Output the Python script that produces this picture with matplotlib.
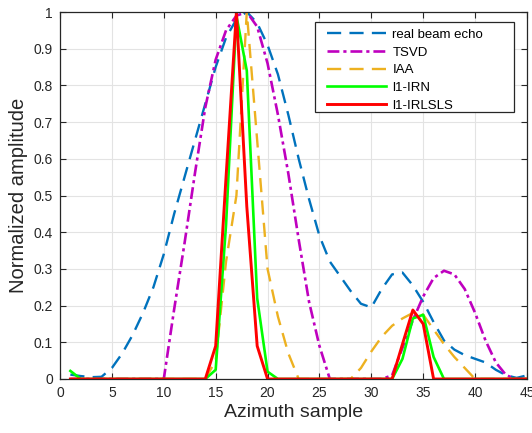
import numpy as np
import matplotlib.pyplot as plt
from matplotlib.patches import Rectangle

plt.rcParams['font.family'] = ['Liberation Sans', 'DejaVu Sans']

# azimuth sample index
samples = np.arange(1, 46)

# real beam echo
echo = [0.012, 0.008, 0.005, 0.006, 0.03, 0.07, 0.12, 0.18, 0.25, 0.34,
        0.45, 0.55, 0.65, 0.75, 0.85, 0.93, 0.98, 1.0, 0.97, 0.91,
        0.83, 0.72, 0.6, 0.49, 0.39, 0.32, 0.28, 0.24, 0.205, 0.195,
        0.245, 0.285, 0.29, 0.255, 0.21, 0.155, 0.105, 0.08, 0.065, 0.055,
        0.045, 0.025, 0.01, 0.003, 0.01]

tsvd = [0, 0, 0, 0, 0, 0, 0, 0, 0, 0,
        0.19, 0.37, 0.56, 0.74, 0.87, 0.95, 0.99, 1.0, 0.96, 0.86,
        0.72, 0.56, 0.38, 0.21, 0.09, 0, 0, 0, 0, 0,
        0, 0.01, 0.085, 0.16, 0.225, 0.275, 0.295, 0.285, 0.245, 0.18,
        0.105, 0.045, 0.01, 0, 0]

iaa = [0, 0, 0, 0, 0, 0, 0, 0, 0, 0,
       0, 0, 0, 0, 0.05, 0.32, 0.5, 1.0, 0.65, 0.3,
       0.17, 0.07, 0, 0, 0, 0, 0, 0, 0.03, 0.075,
       0.115, 0.145, 0.165, 0.18, 0.175, 0.135, 0.095, 0.06, 0.03, 0,
       0, 0, 0, 0, 0]

irn = [0.022, 0, 0, 0, 0, 0, 0, 0, 0, 0,
       0, 0, 0, 0, 0.025, 0.42, 0.99, 0.84, 0.22, 0.02,
       0, 0, 0, 0, 0, 0, 0, 0, 0, 0,
       0, 0, 0.055, 0.165, 0.175, 0.06, 0, 0, 0, 0,
       0, 0, 0, 0, 0]

irlsls = [0, 0, 0, 0, 0, 0, 0, 0, 0, 0,
          0, 0, 0, 0, 0.09, 0.55, 1.0, 0.47, 0.09, 0,
          0, 0, 0, 0, 0, 0, 0, 0, 0, 0,
          0, 0, 0.095, 0.188, 0.15, 0, 0, 0, 0, 0,
          0, 0, 0, 0, 0]

fig = plt.figure(figsize=(5.32, 4.33), dpi=100)
ax = fig.add_axes([60 / 532, 54 / 433, 467 / 532, 367 / 433])

ax.plot(samples, echo, color='#0072BD', lw=1.7, dashes=(6, 3.5), label='real beam echo')
ax.plot(samples, tsvd, color='#BF00BF', lw=1.9, dashes=(4.5, 1.5, 1.2, 1.5), label='TSVD')
ax.plot(samples, iaa, color='#EDB120', lw=1.7, dashes=(6, 3.5), label='IAA')
ax.plot(samples, irn, color='#00FF00', lw=1.9, label='l1-IRN')
ax.plot(samples, irlsls, color='#FF0000', lw=2.1, label='l1-IRLSLS')

ax.set_xlim(0, 45)
ax.set_ylim(0, 1)
ax.set_xticks(np.arange(0, 46, 5))
ax.set_yticks(np.arange(0, 1.01, 0.1))
ax.set_yticklabels(['0', '0.1', '0.2', '0.3', '0.4', '0.5', '0.6', '0.7', '0.8', '0.9', '1'])
ax.tick_params(direction='in', top=True, right=True, length=4, width=0.8,
               labelsize=10, colors='#262626', pad=5)
ax.grid(True, color='#e3e3e3', lw=0.8)
ax.set_axisbelow(True)
for s in ax.spines.values():
    s.set_color('#262626')
    s.set_linewidth(0.9)

ax.set_xlabel('Azimuth sample', fontsize=14, color='#262626', labelpad=3)
ax.set_ylabel('Normalized amplitude', fontsize=14.5, color='#262626', labelpad=4)

# legend frame drawn by hand (matlab style box with extra room on the right)
frame = Rectangle((0.546, 0.7275), 0.426, 0.2455, transform=ax.transAxes,
                  facecolor='white', edgecolor='#262626', lw=0.9, zorder=4.9)
ax.add_patch(frame)
leg = ax.legend(loc='upper left', bbox_to_anchor=(0.5717, 0.955), fontsize=9.5,
                handlelength=4.5, labelspacing=0.42, borderpad=0, borderaxespad=0,
                handletextpad=0.45, frameon=False)

fig.savefig('out.png', dpi=100)
